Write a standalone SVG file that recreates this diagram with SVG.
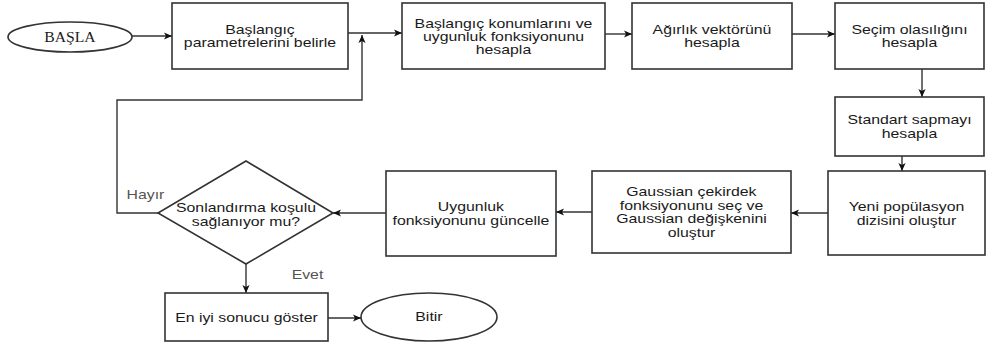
<svg xmlns="http://www.w3.org/2000/svg" width="987" height="349" viewBox="0 0 987 349">
<style>
.n{fill:#fff;stroke:#333;stroke-width:1.6}
.c{fill:none;stroke:#333;stroke-width:1.4}
text{font-family:"Liberation Sans",Arial,sans-serif;font-size:12px;fill:#1a1a1a;text-anchor:middle;transform-box:fill-box;transform-origin:center;transform:scaleX(1.32)}
.serif{font-family:"Liberation Serif","Times New Roman",serif;font-size:14px;transform:scaleX(1.12)}
.lbl{fill:#555}
</style>
<defs>
<marker id="ah" viewBox="0 0 10 10" refX="10" refY="5" markerWidth="8" markerHeight="8" markerUnits="userSpaceOnUse" orient="auto">
<path d="M0,0.5 L10,5 L0,9.5 L2.5,5 Z" fill="#111"/>
</marker>
</defs>
<rect width="987" height="349" fill="#fff"/>
<g id="connectors">
<line class="c" x1="132" y1="36" x2="172" y2="36" marker-end="url(#ah)"/>
<line class="c" x1="348" y1="33" x2="402" y2="33" marker-end="url(#ah)"/>
<polyline class="c" points="158,213 117,213 117,100 362,100 362,35" marker-end="url(#ah)"/>
<line class="c" x1="605" y1="34" x2="632" y2="34" marker-end="url(#ah)"/>
<line class="c" x1="792" y1="34" x2="835" y2="34" marker-end="url(#ah)"/>
<line class="c" x1="922" y1="69" x2="922" y2="97" marker-end="url(#ah)"/>
<line class="c" x1="902" y1="156" x2="902" y2="171" marker-end="url(#ah)"/>
<line class="c" x1="828" y1="213" x2="791" y2="213" marker-end="url(#ah)"/>
<line class="c" x1="592" y1="212" x2="556" y2="212" marker-end="url(#ah)"/>
<line class="c" x1="386" y1="213" x2="333" y2="213" marker-end="url(#ah)"/>
<line class="c" x1="246" y1="264" x2="246" y2="293" marker-end="url(#ah)"/>
<line class="c" x1="328" y1="318" x2="361" y2="318" marker-end="url(#ah)"/>
<text class="lbl" x="145.5" y="199">Hayır</text>
<text class="lbl" x="307.5" y="279">Evet</text>
</g>
<g id="basla">
<ellipse class="n" cx="70" cy="37" rx="62" ry="15"/>
<text class="serif" x="70" y="42">BAŞLA</text>
</g>
<g id="box1">
<rect class="n" x="172" y="3" width="176" height="66"/>
<text x="260" y="34.5">Başlangıç</text>
<text x="260" y="47.5">parametrelerini belirle</text>
</g>
<g id="box2">
<rect class="n" x="402" y="3" width="203" height="66"/>
<text x="503.5" y="28.5">Başlangıç konumlarını ve</text>
<text x="503.5" y="41.5">uygunluk fonksiyonunu</text>
<text x="503.5" y="54.5">hesapla</text>
</g>
<g id="box3">
<rect class="n" x="632" y="3" width="160" height="66"/>
<text x="712" y="34.5">Ağırlık vektörünü</text>
<text x="712" y="47.5">hesapla</text>
</g>
<g id="box4">
<rect class="n" x="835" y="3" width="149" height="66"/>
<text x="909.5" y="34">Seçim olasılığını</text>
<text x="909.5" y="47">hesapla</text>
</g>
<g id="box5">
<rect class="n" x="835" y="97" width="149" height="59"/>
<text x="909.5" y="124.5">Standart sapmayı</text>
<text x="909.5" y="138">hesapla</text>
</g>
<g id="box6">
<rect class="n" x="828" y="171" width="157" height="84"/>
<text x="906.5" y="211.5">Yeni popülasyon</text>
<text x="906.5" y="225">dizisini oluştur</text>
</g>
<g id="box7">
<rect class="n" x="592" y="171" width="199" height="82"/>
<text x="691.5" y="196.5">Gaussian çekirdek</text>
<text x="691.5" y="210">fonksiyonunu seç ve</text>
<text x="691.5" y="223.5">Gaussian değişkenini</text>
<text x="691.5" y="237">oluştur</text>
</g>
<g id="box8">
<rect class="n" x="386" y="171" width="170" height="85"/>
<text x="471" y="211.5">Uygunluk</text>
<text x="471" y="225">fonksiyonunu güncelle</text>
</g>
<g id="decision">
<polygon class="n" points="246,161 333,213 246,264 158,213"/>
<text x="246" y="212">Sonlandırma koşulu</text>
<text x="246" y="226">sağlanıyor mu?</text>
</g>
<g id="box9">
<rect class="n" x="165" y="293" width="163" height="48"/>
<text x="246.5" y="322">En iyi sonucu göster</text>
</g>
<g id="bitir">
<ellipse class="n" cx="429" cy="317" rx="68" ry="24"/>
<text x="429" y="321.5">Bitir</text>
</g>
</svg>
